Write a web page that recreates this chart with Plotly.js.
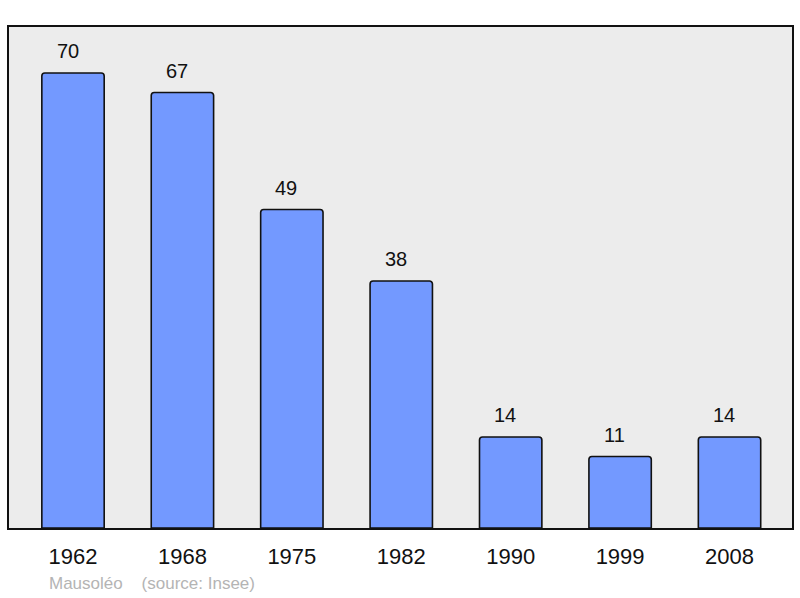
<!DOCTYPE html>
<html>
<head>
<meta charset="utf-8">
<script src="https://cdn.plot.ly/plotly-3.0.1.min.js"></script>
<style>html,body{margin:0;padding:0;background:#fff;}#chart{width:800px;height:598px;}</style>
</head>
<body>
<div id="chart"></div>
<script>
const years = ["1962", "1968", "1975", "1982", "1990", "1999", "2008"];
const population = [70, 67, 49, 38, 14, 11, 14];
const footerText = "Mausoléo&nbsp;&nbsp;&nbsp;&nbsp;(source: Insee)";

const trace = {
  type: "bar",
  x: years,
  y: population,
  width: 0.57,
  marker: {color: "#7399ff", line: {color: "#111111", width: 1.6}, cornerradius: 3},
  hoverinfo: "none"
};

const labelAnnotations = years.map((yr, i) => ({
  x: i, y: population[i], xref: "x", yref: "y",
  text: String(population[i]), showarrow: false,
  yanchor: "bottom", yshift: 9, xshift: -5.5,
  font: {family: "Liberation Sans, Arial, sans-serif", size: 20, color: "#111"}
}));

labelAnnotations.push({
  xref: "paper", yref: "paper", x: 0, y: 0, xanchor: "left", yanchor: "middle",
  xshift: 38, yshift: -55,
  text: footerText, showarrow: false,
  font: {family: "Liberation Sans, Arial, sans-serif", size: 17, color: "#b4b4b4"}
});

const layout = {
  width: 800, height: 598,
  margin: {l: 9, r: 8, t: 27, b: 70, pad: 0},
  paper_bgcolor: "#ffffff",
  plot_bgcolor: "#ececec",
  showlegend: false,
  xaxis: {
    type: "category", range: [-0.585, 6.571],
    showgrid: false, zeroline: false,
    showline: true, mirror: true, linecolor: "#111", linewidth: 2,
    ticks: "", ticklabelstandoff: 8,
    tickfont: {family: "Liberation Sans, Arial, sans-serif", size: 22, color: "#111"}
  },
  yaxis: {
    range: [0, 77.08], showgrid: false, zeroline: false,
    showline: true, mirror: true, linecolor: "#111", linewidth: 2,
    showticklabels: false, ticks: ""
  },
  annotations: labelAnnotations
};

Plotly.newPlot("chart", [trace], layout, {staticPlot: true, displayModeBar: false});
</script>
</body>
</html>
